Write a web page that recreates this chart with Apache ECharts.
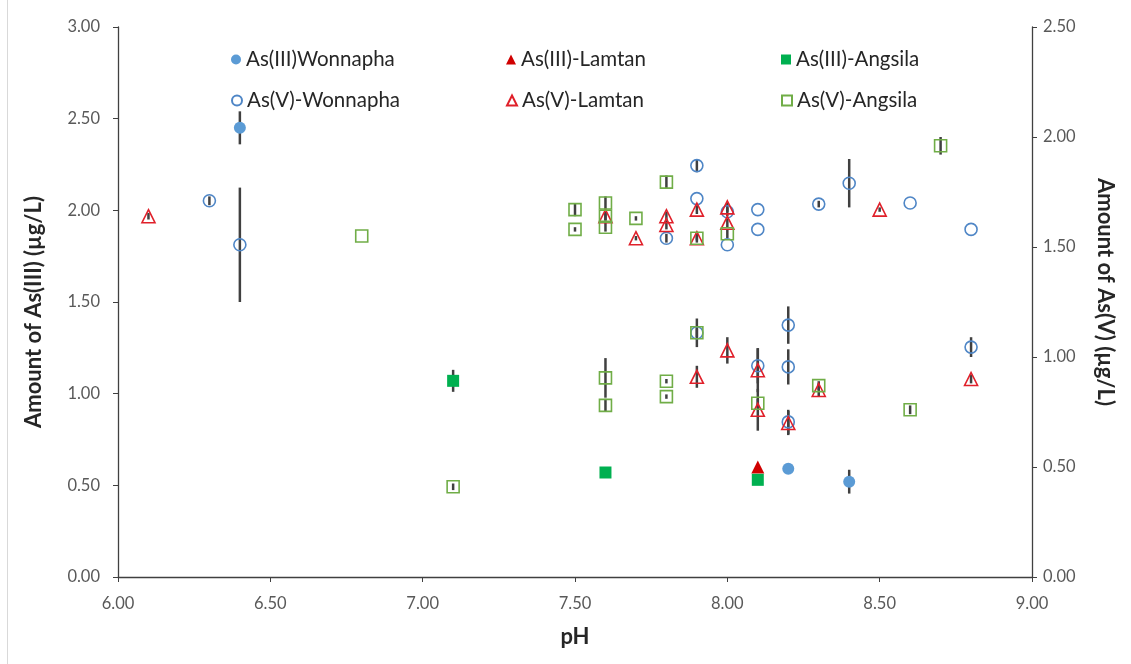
<!DOCTYPE html>
<html>
<head>
<meta charset="utf-8">
<script src="https://cdn.jsdelivr.net/npm/echarts@6/dist/echarts.min.js"></script>
<style>
  html, body { margin: 0; padding: 0; background: #fff; }
  #chart { width: 1131px; height: 664px; }
</style>
</head>
<body>
<div id="chart"></div>
<script>
// Each point: [pH, concentration (µg/L), ± error]
const asIIIWonnapha = [[6.4, 2.45, 0.09], [8.2, 0.59, 0], [8.4, 0.52, 0.065]];
const asIIILamtan = [[8.1, 0.60, 0]];
const asIIIAngsila = [[7.1, 1.07, 0.06], [7.6, 0.57, 0.02], [8.1, 0.53, 0]];

const asVWonnapha = [
  [6.3, 1.71, 0.02], [6.4, 1.51, 0.26], [7.8, 1.54, 0.02], [7.9, 1.87, 0.03],
  [7.9, 1.72, 0], [7.9, 1.11, 0.065], [8.0, 1.66, 0.02], [8.0, 1.51, 0],
  [8.1, 1.67, 0], [8.1, 1.58, 0], [8.1, 0.96, 0.08], [8.2, 1.145, 0.085],
  [8.2, 0.955, 0.08], [8.2, 0.705, 0.055], [8.3, 1.695, 0.015], [8.4, 1.79, 0.11],
  [8.6, 1.70, 0], [8.8, 1.58, 0], [8.8, 1.045, 0.045]
];
const asVLamtan = [
  [6.1, 1.64, 0.015], [7.6, 1.64, 0.02], [7.7, 1.54, 0.01], [7.8, 1.64, 0.02],
  [7.8, 1.60, 0.02], [7.9, 1.67, 0.02], [7.9, 1.54, 0.01], [7.9, 0.91, 0.05],
  [8.0, 1.68, 0.02], [8.0, 1.61, 0.02], [8.0, 1.03, 0.06], [8.1, 0.94, 0.10],
  [8.1, 0.76, 0.095], [8.2, 0.70, 0.055], [8.3, 0.85, 0.03], [8.5, 1.67, 0.01],
  [8.8, 0.90, 0.02]
];
const asVAngsila = [
  [6.8, 1.55, 0], [7.1, 0.41, 0.015], [7.5, 1.67, 0.03], [7.5, 1.58, 0.01],
  [7.6, 1.70, 0.03], [7.6, 1.64, 0.02], [7.6, 1.59, 0.02], [7.6, 0.905, 0.09],
  [7.6, 0.78, 0.03], [7.7, 1.63, 0.01], [7.8, 1.795, 0.03], [7.8, 0.89, 0.01],
  [7.8, 0.82, 0.01], [7.9, 1.54, 0.02], [7.9, 1.11, 0.02], [8.0, 1.56, 0.02],
  [8.1, 0.79, 0.02], [8.3, 0.87, 0.02], [8.6, 0.76, 0.02], [8.7, 1.96, 0.04]
];

const seriesNames = [
  'As(III)Wonnapha', 'As(III)-Lamtan', 'As(III)-Angsila',
  'As(V)-Wonnapha', 'As(V)-Lamtan', 'As(V)-Angsila'
];

const FONT = 'Lato, "Open Sans", sans-serif';
const BAR_COLOR = '#404040';

// Markers: filled for As(III) on the left axis, hollow for As(V) on the right axis
const styles = [
  { data: asIIIWonnapha, axis: 0, symbol: 'circle',   size: 12, fill: '#5B9BD5', border: '#5B9BD5' },
  { data: asIIILamtan,   axis: 0, symbol: 'triangle', size: 13, fill: '#D00000', border: '#D00000' },
  { data: asIIIAngsila,  axis: 0, symbol: 'rect',     size: 12, fill: '#00B050', border: '#00B050' },
  { data: asVWonnapha,   axis: 1, symbol: 'circle',   size: 12, fill: 'rgba(0,0,0,0)', border: '#4F86C6' },
  { data: asVLamtan,     axis: 1, symbol: 'triangle', size: 13, fill: 'rgba(0,0,0,0)', border: '#E0202A' },
  { data: asVAngsila,    axis: 1, symbol: 'rect',     size: 12, fill: 'rgba(0,0,0,0)', border: '#70AD47' }
];

function errorBars(points, axis) {
  return {
    type: 'custom',
    yAxisIndex: axis,
    z: 1,
    silent: true,
    encode: { x: 0, y: [1, 2] },
    data: points.filter(p => p[2] > 0).map(p => [p[0], p[1] - p[2], p[1] + p[2]]),
    renderItem: function (params, api) {
      const a = api.coord([api.value(0), api.value(1)]);
      const b = api.coord([api.value(0), api.value(2)]);
      return {
        type: 'line',
        shape: { x1: a[0], y1: a[1], x2: b[0], y2: b[1] },
        style: { stroke: BAR_COLOR, lineWidth: 2.5 }
      };
    }
  };
}

const series = [];
styles.forEach((s, i) => series.push(errorBars(s.data, s.axis)));
styles.forEach((s, i) => series.push({
  name: seriesNames[i],
  type: 'scatter',
  yAxisIndex: s.axis,
  z: 3,
  symbol: s.symbol,
  symbolSize: s.size,
  data: s.data.map(p => [p[0], p[1]]),
  itemStyle: {
    color: s.fill,
    borderColor: s.border,
    borderWidth: i < 3 ? 0 : 1.6,
    opacity: 1
  }
}));

// Legend: two rows of three, placed inside the plot area
const legendCols = [231, 506, 781];
const legendRows = [49, 90];
const legends = seriesNames.map((name, i) => ({
  data: [name],
  left: legendCols[i % 3],
  top: legendRows[Math.floor(i / 3)],
  padding: 0,
  itemWidth: 10,
  itemHeight: 10,
  selectedMode: false,
  textStyle: { fontFamily: FONT, fontSize: 20.5, color: '#262626', lineHeight: 20 }
}));

const axisLabelStyle = { fontFamily: FONT, fontSize: 16.5, color: '#595959' };
const axisLineStyle = { show: true, lineStyle: { color: '#404040', width: 1.3 } };
const nameStyle = { fontFamily: FONT, fontSize: 22, fontWeight: 'bold', color: '#262626' };

const option = {
  animation: false,
  backgroundColor: '#ffffff',
  grid: { left: 118, right: 99, top: 27, bottom: 87 },
  legend: legends,
  xAxis: {
    type: 'value', min: 6, max: 9, interval: 0.5,
    name: 'pH', nameLocation: 'middle', nameGap: 49,
    nameTextStyle: Object.assign({}, nameStyle, { fontSize: 22 }),
    axisLine: axisLineStyle,
    axisTick: { show: true, length: 5, lineStyle: { color: '#404040' } },
    axisLabel: Object.assign({ margin: 18, formatter: v => v.toFixed(2) }, axisLabelStyle),
    splitLine: { show: false }
  },
  yAxis: [
    {
      type: 'value', min: 0, max: 3, interval: 0.5, position: 'left',
      name: 'Amount of As(III) (µg/L)', nameLocation: 'middle', nameGap: 73,
      nameTextStyle: Object.assign({ padding: [0, 20, 0, 0] }, nameStyle),
      axisLine: axisLineStyle,
      axisTick: { show: true, length: 5, lineStyle: { color: '#404040' } },
      axisLabel: Object.assign({ margin: 18, formatter: v => v.toFixed(2) }, axisLabelStyle),
      splitLine: { show: false }
    },
    {
      type: 'value', min: 0, max: 2.5, interval: 0.5, position: 'right',
      name: 'Amount of As(V) (µg/L)', nameLocation: 'middle', nameGap: 62, nameRotate: -90,
      nameTextStyle: Object.assign({ padding: [0, 20, 0, 0] }, nameStyle),
      axisLine: axisLineStyle,
      axisTick: { show: true, length: 5, lineStyle: { color: '#404040' } },
      axisLabel: Object.assign({ margin: 11, formatter: v => v.toFixed(2) }, axisLabelStyle),
      splitLine: { show: false }
    }
  ],
  graphic: [{
    type: 'line', silent: true,
    shape: { x1: 7.5, y1: 0, x2: 7.5, y2: 664 },
    style: { stroke: '#D9D9D9', lineWidth: 1 }
  }],
  series: series
};

const chart = echarts.init(document.getElementById('chart'), null, { renderer: 'canvas' });
chart.setOption(option);
</script>
</body>
</html>
